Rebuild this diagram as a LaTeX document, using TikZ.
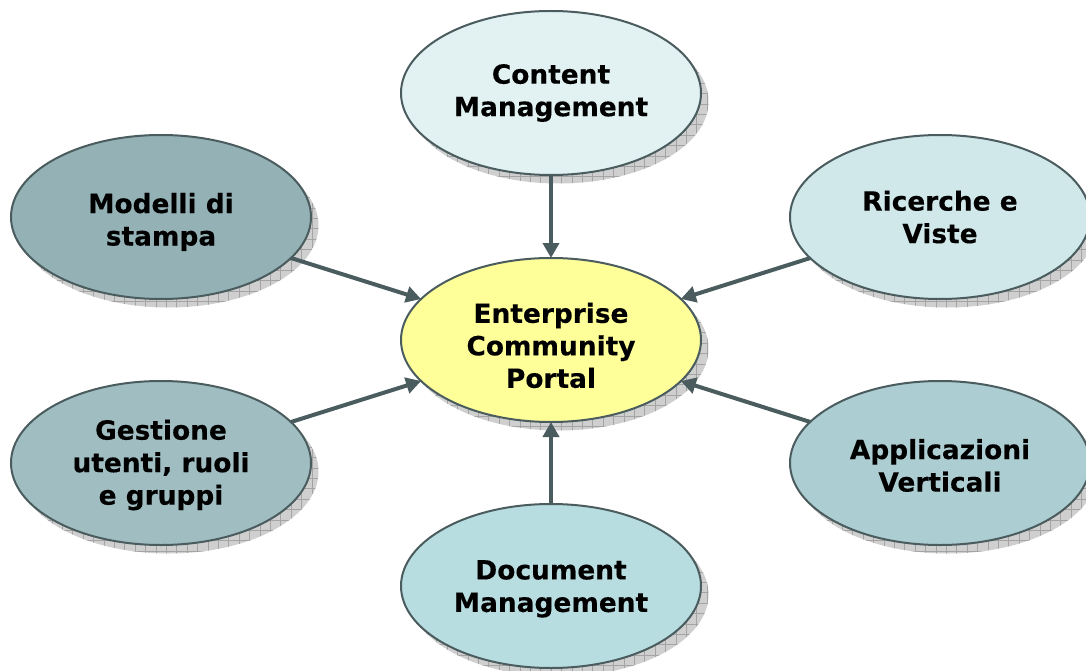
\documentclass[tikz,border=0pt]{standalone}
\usepackage{fontspec}
\setmainfont[BoldFeatures={FakeBold=0.25}]{DejaVu Sans}
\usetikzlibrary{shapes.geometric,arrows.meta}
\definecolor{edgecol}{HTML}{4A5C5E}
\definecolor{shadefill}{HTML}{CFCFCF}
\definecolor{shadegrid}{HTML}{A4A4A4}
\tikzset{
  x=1pt,y=-1pt,
  bubble/.style={ellipse,draw=edgecol,line width=2pt,minimum width=300pt,minimum height=164pt,inner sep=0pt,outer sep=0pt,align=center,font=\fontsize{26.4}{32.5}\selectfont\bfseries,text=black},
  link/.style={draw=edgecol,line width=4pt,-{Triangle[length=15pt,width=16pt]}},
  shadowgrid/.style={draw=shadegrid,line width=0.7pt}
}
\newcommand{\nudge}[1]{\rule{0pt}{#1pt}}
\newcommand{\dropshadow}[2]{%
  \begin{scope}
    \clip (#1+7.5,#2+8.5) ellipse [x radius=150,y radius=82];
    \fill[shadefill] (#1-160,#2-90) rectangle (#1+170,#2+100);
    \foreach \g in {0,...,110}{\draw[shadowgrid] (\g*10.4,0) -- (\g*10.4,671);}
    \foreach \g in {0,...,65}{\draw[shadowgrid] (0,\g*10.4) -- (1086,\g*10.4);}
  \end{scope}}
\begin{document}
\begin{tikzpicture}
\clip (0,0) rectangle (1086,671);
\fill[white] (0,0) rectangle (1086,671);
\dropshadow{551}{93}
\dropshadow{551}{340}
\dropshadow{551}{586}
\dropshadow{161}{217}
\dropshadow{161}{463}
\dropshadow{940}{217}
\dropshadow{940}{463}
\node[bubble,fill={rgb,255:red,255;green,255;blue,153}] (portal) at (551,340) {\nudge{31}Enterprise\\Community\\Portal};
\node[bubble,fill={rgb,255:red,226;green,242;blue,243}] (content) at (551,93) {Content\\Management};
\node[bubble,fill={rgb,255:red,148;green,177;blue,181}] (modelli) at (161,217) {\nudge{30}Modelli di\\stampa};
\node[bubble,fill={rgb,255:red,208;green,232;blue,234}] (ricerche) at (940,217) {Ricerche e\\Viste};
\node[bubble,fill={rgb,255:red,160;green,190;blue,194}] (gestione) at (161,463) {\nudge{24}Gestione\\utenti, ruoli\\e gruppi};
\node[bubble,fill={rgb,255:red,172;green,205;blue,209}] (appl) at (940,463) {\nudge{25}Applicazioni\\Verticali};
\node[bubble,fill={rgb,255:red,184;green,221;blue,225}] (docum) at (551,586) {\nudge{25}Document\\Management};
\path[link] (content) -- (portal);
\path[link] (modelli) -- (portal);
\path[link] (ricerche) -- (portal);
\path[link] (gestione) -- (portal);
\path[link] (appl) -- (portal);
\path[link] (docum) -- (portal);
\end{tikzpicture}
\end{document}
